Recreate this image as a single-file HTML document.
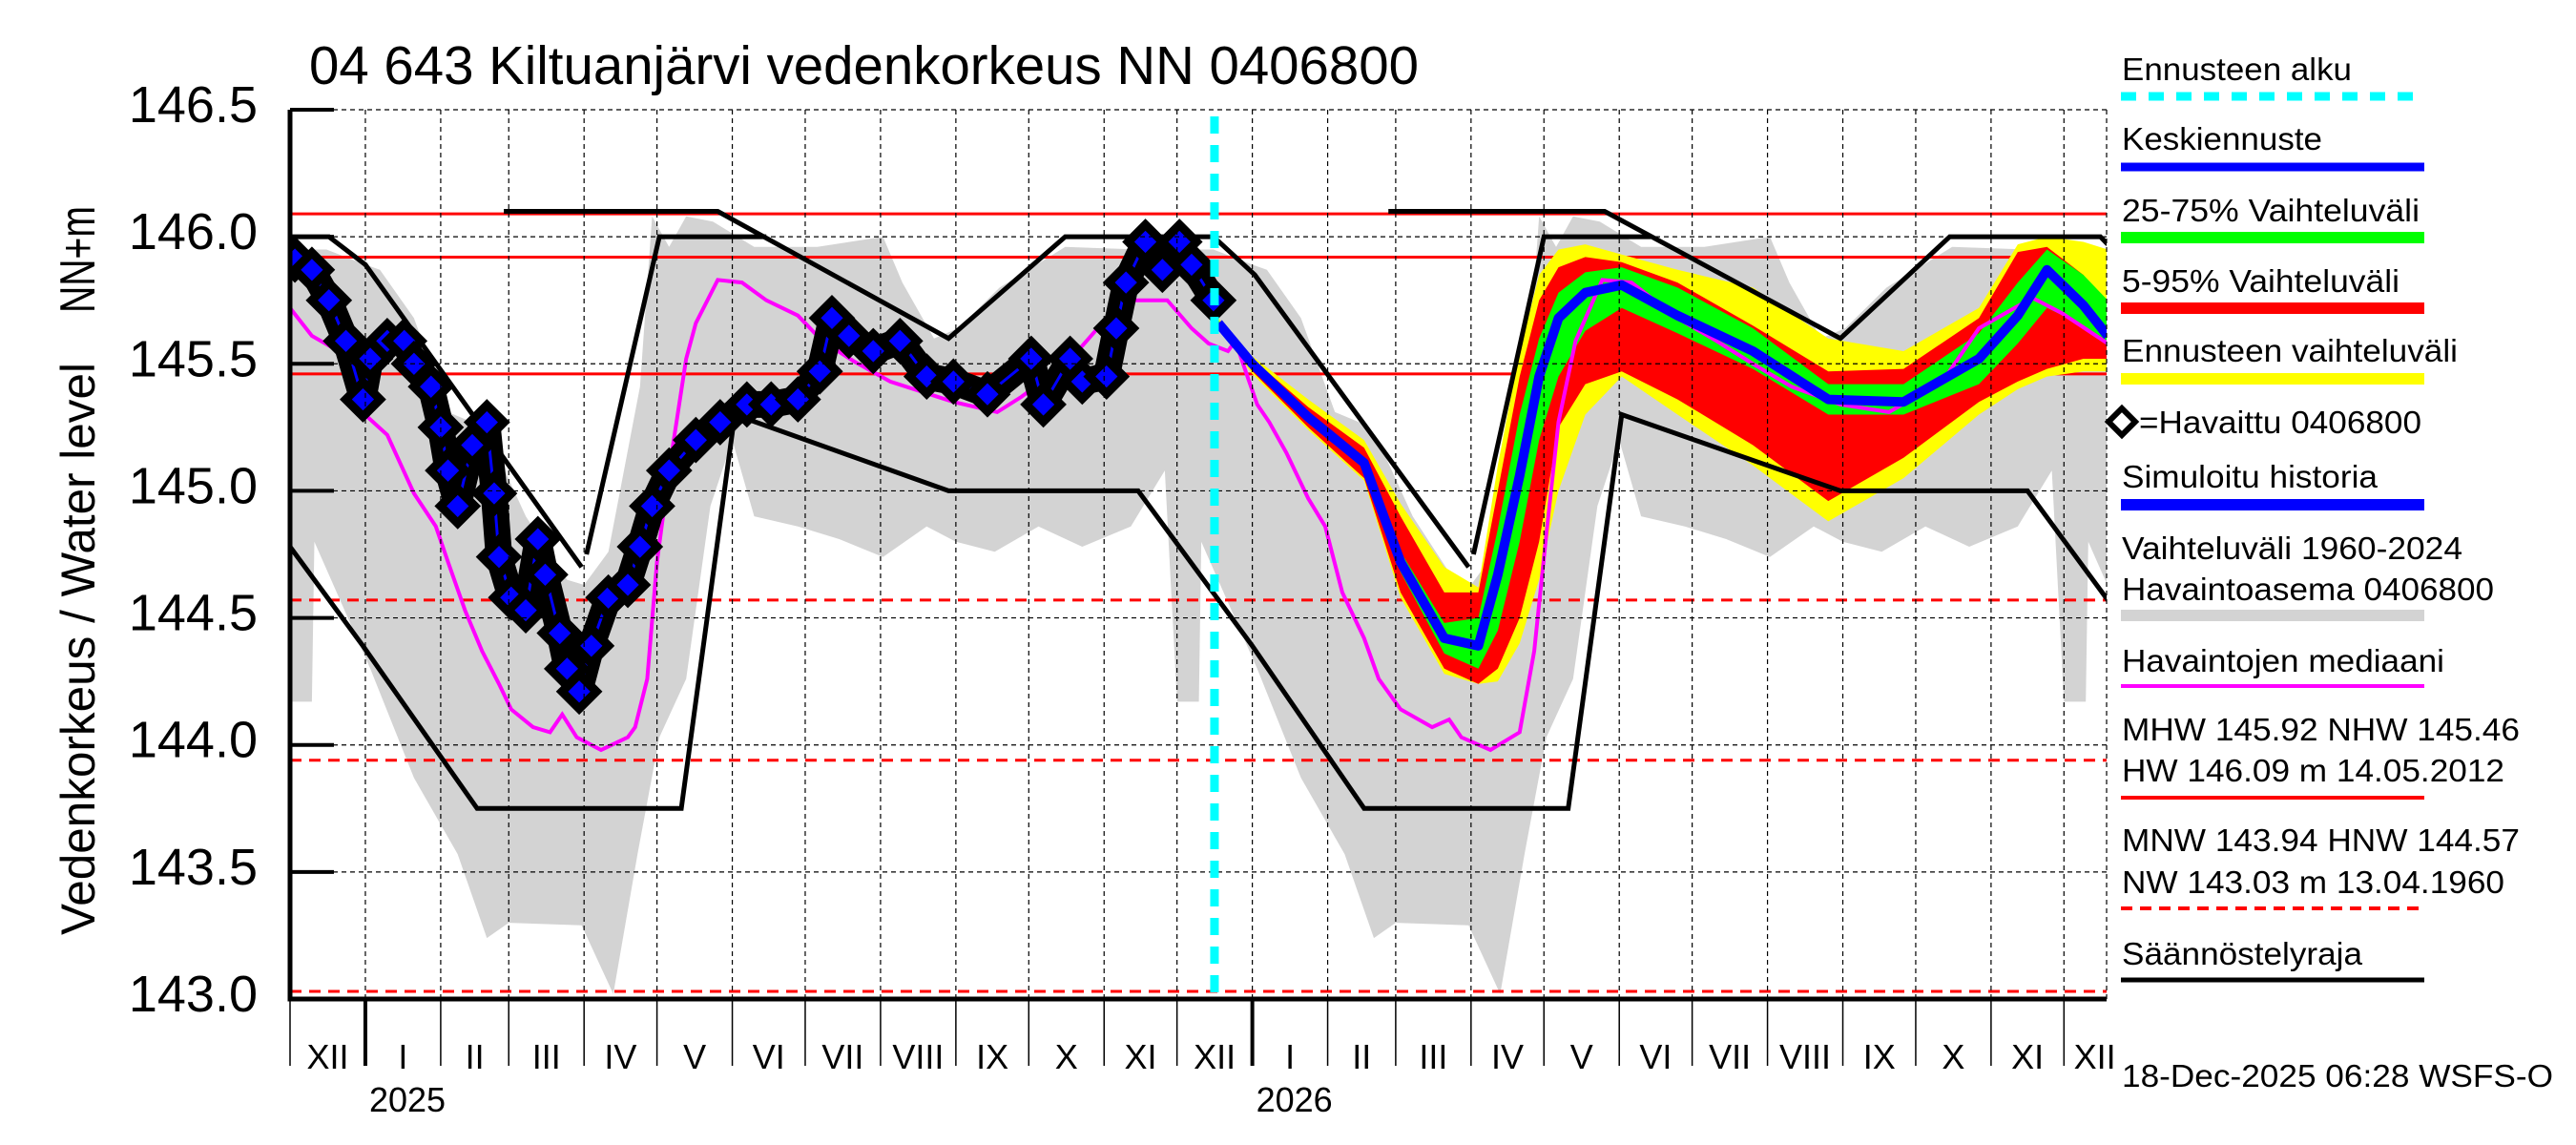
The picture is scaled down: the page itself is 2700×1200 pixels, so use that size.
<!DOCTYPE html>
<html><head><meta charset="utf-8"><style>
html,body{margin:0;padding:0;background:#fff;}
svg{display:block;font-family:"Liberation Sans",Arial,sans-serif;}
</style></head><body>
<svg id="chart" width="2700" height="1200" viewBox="0 0 2700 1200" xmlns="http://www.w3.org/2000/svg">
<rect x="0" y="0" width="2700" height="1200" fill="#fff"/>
<g id="plot"></g>
<text x="324" y="88" font-size="57" textLength="1163" lengthAdjust="spacingAndGlyphs">04 643 Kiltuanjärvi vedenkorkeus NN 0406800</text>
<text transform="translate(99,272) rotate(-90)" text-anchor="middle" font-size="52" textLength="112" lengthAdjust="spacingAndGlyphs">NN+m</text>
<text transform="translate(99,680) rotate(-90)" text-anchor="middle" font-size="50" textLength="600" lengthAdjust="spacingAndGlyphs">Vedenkorkeus / Water level</text>
<g id="legend"></g>
</svg>
<script>
// ---- data ----
const yTicks = [143.0, 143.5, 144.0, 144.5, 145.0, 145.5, 146.0, 146.5];
const yTickLabels = ["143.0","143.5","144.0","144.5","145.0","145.5","146.0","146.5"];
const monthLabels = ["XII","I","II","III","IV","V","VI","VII","VIII","IX","X","XI","XII","I","II","III","IV","V","VI","VII","VIII","IX","X","XI","XII"];
const refSolid = [146.09, 145.92, 145.46];
const refDashed = [144.57, 143.94, 143.03];
const forecastStartDay = 382;
// historical envelope (days since 1 Dec, repeating yearly)
const bandDays  = [0,9,10,33,51,69,81,90,120,133,143,152,163,173,182,191,209,226,244,262,274,290,308,326,346,360,365];
const bandLow   = [144.17,144.17,144.8,144.3,143.87,143.57,143.24,143.3,143.29,143.02,143.57,144.03,144.26,144.94,145.2,144.9,144.86,144.81,144.74,144.86,144.8,144.76,144.86,144.78,144.86,145.08,144.17];
const bandUpDays= [0,15,31,37,51,65,75,86,97,114,121,131,144,149,156,163,174,191,217,244,252,265,275,292,319,350,365];
const bandUp    = [145.95,145.95,145.89,145.87,145.68,145.31,145.27,145.13,144.9,144.65,144.63,144.76,145.41,146.08,145.96,146.08,146.06,145.96,145.96,146.0,145.82,145.6,145.64,145.8,145.96,145.95,145.95];
// median
const medDays = [0,9,20,23,30,32,40,51,60,65,72,79,86,91,100,107,112,118,128,139,142,147,151,156,163,167,176,186,196,209,219,232,247,273,291,301,315,326,336,347,361,371,378,386,389,394,398,403,410,419,426,433,442,448,457,470,477,482,494,506,512,517,522,529,540,552,571,587,602,618,638,658,680,695,717,729,748];
const medVals = [145.72,145.61,145.55,145.59,145.43,145.29,145.22,144.99,144.86,144.72,144.53,144.37,144.24,144.14,144.07,144.05,144.12,144.03,143.98,144.03,144.07,144.26,144.72,145.08,145.52,145.66,145.83,145.82,145.75,145.69,145.59,145.51,145.43,145.35,145.31,145.37,145.47,145.57,145.68,145.75,145.75,145.64,145.58,145.55,145.59,145.45,145.34,145.27,145.15,144.97,144.86,144.6,144.42,144.26,144.14,144.07,144.1,144.03,143.98,144.05,144.37,144.83,145.27,145.59,145.83,145.82,145.68,145.59,145.5,145.41,145.34,145.31,145.43,145.64,145.76,145.7,145.58];
// observed
const obsDays = [2,9,16,23,30,33,40,47,51,58,62,65,69,75,81,84,86,91,97,102,105,111,114,119,124,131,139,144,149,156,167,177,188,198,209,218,223,230,240,251,262,273,287,305,310,321,326,336,340,344,352,359,366,371,380];
const obsVals = [145.91,145.87,145.75,145.59,145.36,145.52,145.59,145.59,145.5,145.41,145.25,145.08,144.94,145.18,145.27,144.99,144.74,144.58,144.53,144.81,144.67,144.44,144.3,144.21,144.39,144.58,144.63,144.78,144.94,145.08,145.2,145.27,145.34,145.34,145.36,145.47,145.68,145.61,145.55,145.59,145.45,145.43,145.38,145.52,145.34,145.52,145.43,145.45,145.64,145.82,145.98,145.87,145.98,145.89,145.75];
// forecast
const fcDays = [382,396,419,442,457,475,489,497,506,514,522,533,548,571,602,633,664,695,711,723,738,748];
const fcMid  = [145.66,145.5,145.29,145.11,144.72,144.42,144.39,144.67,145.06,145.45,145.68,145.78,145.81,145.69,145.55,145.36,145.35,145.52,145.69,145.87,145.73,145.61];
const fcP75  = [145.67,145.51,145.31,145.13,144.76,144.48,144.5,144.85,145.3,145.6,145.78,145.86,145.88,145.8,145.64,145.42,145.42,145.62,145.82,145.95,145.85,145.75];
const fcP25  = [145.65,145.49,145.27,145.09,144.68,144.36,144.3,144.45,144.8,145.2,145.45,145.63,145.72,145.62,145.48,145.3,145.3,145.42,145.58,145.72,145.65,145.58];
const fcP95  = [145.67,145.52,145.33,145.17,144.9,144.6,144.6,145.0,145.45,145.75,145.88,145.92,145.9,145.82,145.65,145.47,145.48,145.68,145.94,145.96,145.85,145.7];
const fcP5   = [145.65,145.47,145.25,145.05,144.6,144.3,144.24,144.3,144.5,144.8,145.25,145.42,145.47,145.36,145.18,144.96,145.13,145.35,145.43,145.48,145.52,145.52];
const fcMax  = [145.68,145.53,145.36,145.2,144.95,144.7,144.62,145.1,145.55,145.85,145.95,145.97,145.93,145.87,145.8,145.6,145.55,145.72,145.97,146.0,145.98,145.95];
const fcMin  = [145.64,145.46,145.24,145.04,144.58,144.28,144.24,144.25,144.4,144.65,145.0,145.3,145.45,145.3,145.1,144.88,145.05,145.3,145.4,145.45,145.47,145.47];
// regulation limits
const regUpA_d = [0,16,31,120];            const regUpA_v = [146.0,146.0,145.89,144.7];
const regUpB_d = [122,152,196];            const regUpB_v = [144.75,146.0,146.0];
const regTopA_d = [88,176,271,319,380,397,485]; const regTopA_v = [146.1,146.1,145.6,146.0,146.0,145.85,144.7];
const regUpC_d = [487,516,560];            const regUpC_v = [144.75,146.0,146.0];
const regTopB_d = [452,541,638,683,745,748]; const regTopB_v = [146.1,146.1,145.6,146.0,146.0,145.97];
const regLow_d = [0,30,77,161,183,271,349,396,442,526,548,638,715,748];
const regLow_v = [144.78,144.39,143.75,143.75,145.3,145.0,145.0,144.39,143.75,143.75,145.3,145.0,145.0,144.57];

// ---- scales ----
const X0=304, X1=2208, Y0=115, Y1=1047, PXD=2.547;
function xs(d){return X0+d*PXD;}
function ys(v){return Y0+(146.5-v)*(Y1-Y0)/3.5;}
const NS="http://www.w3.org/2000/svg";
const plot=document.getElementById('plot');
function mk(tag,attrs,parent){const e=document.createElementNS(NS,tag);for(const k in attrs)e.setAttribute(k,attrs[k]);(parent||plot).appendChild(e);return e;}
function pts(ds,vs,off){return ds.map((d,i)=>xs(d+(off||0)).toFixed(1)+','+ys(vs[i]).toFixed(1)).join(' ');}

const defs=mk('defs',{});
const cp=mk('clipPath',{id:'clip'},defs);
mk('rect',{x:X0,y:Y0-20,width:X1-X0,height:Y1-Y0+20},cp);
const g=mk('g',{'clip-path':'url(#clip)'});



[0,365,730].forEach(off=>{
  const up=pts(bandUpDays,bandUp,off);
  const lo=bandDays.map((d,i)=>xs(d+off).toFixed(1)+','+ys(bandLow[i]).toFixed(1)).reverse().join(' ');
  const p=mk('polygon',{points:up+' '+lo,fill:'#d3d3d3'},g);
  
  
});

const start=Date.UTC(2024,11,1);
const bounds=[];
for(let i=0;i<=25;i++){const dt=Date.UTC(2024,11+i,1);bounds.push((dt-start)/86400000);}
bounds.forEach((d,i)=>{
  const x=xs(d); if(x>X1+1) return;
  if(i>0){const l=mk('line',{x1:x,y1:Y0,x2:x,y2:Y1,stroke:'#000','stroke-width':1.2,'stroke-dasharray':'5,4'});
  }
  const yr=(i===1||i===13);
  const t=mk('line',{x1:x,y1:Y1,x2:x,y2:1117,stroke:'#000','stroke-width':yr?4:1.5});
  
});
monthLabels.forEach((m,i)=>{
  const a=xs(bounds[i]), b=Math.min(xs(bounds[i+1]),X1+20);
  const t=mk('text',{x:(a+b)/2,y:1120,'font-size':36,'text-anchor':'middle'});
  t.textContent=m;
  
});
[[1,'2025'],[13,'2026']].forEach(([i,s])=>{
  const t=mk('text',{x:xs(bounds[i])+4,y:1165,'font-size':36});
  t.textContent=s;
  
});
yTicks.forEach((v,i)=>{
  const y=ys(v);
  const l=mk('line',{x1:X0,y1:y,x2:X1,y2:y,stroke:'#000','stroke-width':1.2,'stroke-dasharray':'5,4'});
  
  const tk=mk('line',{x1:X0,y1:y,x2:350,y2:y,stroke:'#000','stroke-width':4});
  
  const t=mk('text',{x:270,y:y+13,'font-size':54,'text-anchor':'end'});
  t.textContent=yTickLabels[i];
  
});
mk('line',{x1:X1,y1:Y0,x2:X1,y2:Y1,stroke:'#000','stroke-width':1.2,'stroke-dasharray':'5,4'});

refSolid.forEach(v=>{const l=mk('line',{x1:X0,y1:ys(v),x2:X1,y2:ys(v),stroke:'#f00','stroke-width':3},g);
  });
refDashed.forEach(v=>{const l=mk('line',{x1:X0,y1:ys(v),x2:X1,y2:ys(v),stroke:'#f00','stroke-width':3,'stroke-dasharray':'12,8'},g);
  });

function band(hi,lo,color,name){
  const p=mk('polygon',{points:pts(fcDays,hi)+' '+fcDays.map((d,i)=>xs(d).toFixed(1)+','+ys(lo[i]).toFixed(1)).reverse().join(' '),fill:color},g);
  
}
band(fcMax,fcMin,'#ffff00','forecast-range-band');
band(fcP95,fcP5,'#ff0000','forecast-5-95-band');
band(fcP75,fcP25,'#00ff00','forecast-25-75-band');

[[regUpA_d,regUpA_v],[regUpB_d,regUpB_v],[regTopA_d,regTopA_v],[regUpC_d,regUpC_v],[regTopB_d,regTopB_v],[regLow_d,regLow_v]].forEach(([d,v])=>{
  const p=mk('polyline',{points:pts(d,v),fill:'none',stroke:'#000','stroke-width':5,'stroke-linejoin':'miter'},g);
  
});

const med=mk('polyline',{points:pts(medDays,medVals),fill:'none',stroke:'#ff00ff','stroke-width':4},g);


const ob=mk('polyline',{points:pts(obsDays,obsVals),fill:'none',stroke:'#000','stroke-width':28,'stroke-linejoin':'round'},g);

const sim=mk('polyline',{points:pts(obsDays,obsVals),fill:'none',stroke:'#0000ff','stroke-width':3},g);

obsDays.forEach((d,i)=>{
  const x=xs(d),y=ys(obsVals[i]),r=18;
  const p=mk('polygon',{points:`${x},${y-r} ${x+r},${y} ${x},${y+r} ${x-r},${y}`,fill:'#0000ff',stroke:'#000','stroke-width':9},g);
  
});

const fc=mk('polyline',{points:pts(fcDays,fcMid),fill:'none',stroke:'#0000ff','stroke-width':10,'stroke-linejoin':'round'},g);


const fx=xs(forecastStartDay)-4;
const fs=mk('line',{x1:fx,y1:122,x2:fx,y2:Y1,stroke:'#00ffff','stroke-width':9,'stroke-dasharray':'18,12'});


const ax=mk('polyline',{points:`${X0},${Y0} ${X0},${Y1} ${X1},${Y1}`,fill:'none',stroke:'#000','stroke-width':5});


const lg=document.getElementById('legend');
const L1=2223,L2=2541,TX=2224;
const items=[
 ['Ennusteen alku',84,241,101,'#00ffff',9,'16,13','legend-forecast-start'],
 ['Keskiennuste',157,210,175,'#0000ff',9,null,'legend-central-forecast'],
 ['25-75% Vaihteluväli',232,312,249,'#00ff00',12,null,'legend-25-75'],
 ['5-95% Vaihteluväli',306,291,323,'#ff0000',12,null,'legend-5-95'],
 ['Ennusteen vaihteluväli',379,352,397,'#ffff00',12,null,'legend-forecast-range'],
 ['Simuloitu historia',511,268,529,'#0000ff',12,null,'legend-simulated'],
 ['Havaintoasema 0406800',629,390,645,'#d3d3d3',12,null,'legend-historical-range'],
 ['Havaintojen mediaani',704,338,719,'#ff00ff',4,null,'legend-median'],
 ['HW 146.09 m 14.05.2012',819,401,836,'#ff0000',4,null,'legend-high-water'],
 ['NW 143.03 m 13.04.1960',936,401,952,'#ff0000',4,'12,8','legend-low-water'],
 ['Säännöstelyraja',1011,252,1027,'#000',5,null,'legend-regulation-limit']
];
items.forEach(it=>{
  const t=mk('text',{x:TX,y:it[1],'font-size':33,textLength:it[2],lengthAdjust:'spacingAndGlyphs'},lg);
  t.textContent=it[0];
  
  const a={x1:L1,y1:it[3],x2:L2,y2:it[3],stroke:it[4],'stroke-width':it[5]};
  if(it[6])a['stroke-dasharray']=it[6];
  const l=mk('line',a,lg);
  
});
[['Vaihteluväli 1960-2024',586,357,'legend-historical-title'],['MHW 145.92 NHW 145.46',776,417,'legend-mean-high'],['MNW 143.94 HNW 144.57',892,417,'legend-mean-low'],['=Havaittu 0406800',454,296,'legend-observed-label']].forEach(it=>{
  const x=it[3]==='legend-observed-label'?2242:TX;
  const t=mk('text',{x:x,y:it[1],'font-size':33,textLength:it[2],lengthAdjust:'spacingAndGlyphs'},lg);
  t.textContent=it[0];
  
});
const dm=mk('polygon',{points:'2224,428 2238,442 2224,456 2210,442',fill:'#fff',stroke:'#000','stroke-width':6},lg);

const dt=mk('text',{x:TX,y:1139,'font-size':33,textLength:452,lengthAdjust:'spacingAndGlyphs'},lg);
dt.textContent='18-Dec-2025 06:28 WSFS-O';

</script>
</body></html>
